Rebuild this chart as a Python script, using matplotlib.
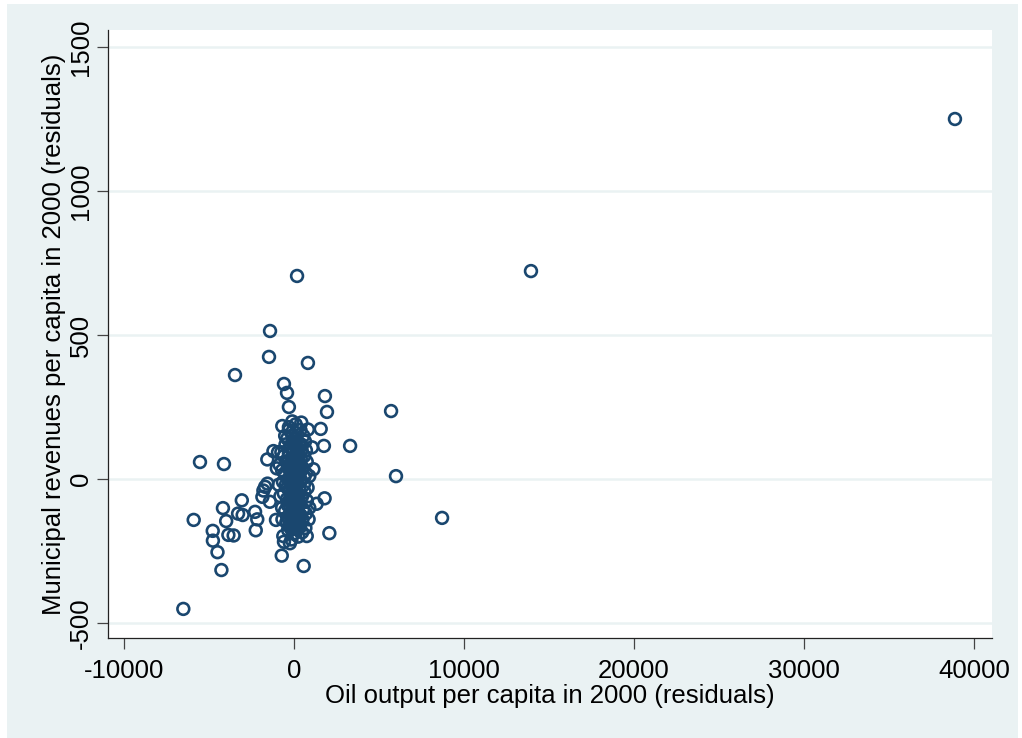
import numpy as np
import matplotlib
matplotlib.use("Agg")
import matplotlib.pyplot as plt
from matplotlib.patches import Rectangle

plt.rcParams['font.family'] = ['Liberation Sans', 'DejaVu Sans']
plt.rcParams['axes.unicode_minus'] = False

# outlying municipalities (oil output residual, revenue residual)
x_out = [38880, 13940, 180, -1410, -1470, 820, -3470, -590, -410, 1820, -300, 1940,
         5710, 3300, -5530, -4120, 6000, 8710, -5900, 2080, -6510, -4270, 570, -4500,
         -4770, -4780, -3990, -4180, -3860, -3550, -3070, -3290, -3020, -2290, -2160,
         -2250, -720, -1860, -1560, -1700, -1420, -1570, -1210, -940, -745, -690, 430,
         820, 1570, 1760, 1060, -290, 80, 1800, 1330, -1060, 860, 750, 670, -630, -590,
         -240, -350, 160, -1010, 1140, -1800]
y_out = [1250, 722, 705, 514, 424, 403, 361, 330, 299, 288, 250, 233,
         236, 115, 59, 52, 10, -135, -142, -188, -451, -316, -302, -254,
         -214, -180, -146, -101, -194, -196, -74, -120, -125, -114, -140,
         -178, -266, -62, -16, -27, -79, 68, 97, 93, 93, 184, 196,
         172, 174, 115, 110, 170, 160, -67, -86, -142, -140, -198, -170, -198, -218,
         -223, -177, -171, 37, 34, -40]

# dense cluster around the origin
x_core = [-500, -400, -250, -100, 0, 150, 300, 450, 550, 650,
          -600, -450, -300, -150, -50, 100, 250, 400, 600, 750,
          -700, -550, -350, -200, -80, 50, 200, 350, 500, 700, 900,
          -650, -480, -320, -180, -30, 120, 280, 420, 580, 800,
          -800, -600, -420, -260, -120, 20, 170, 320, 480, 620, 760,
          -700, -520, -380, -220, -60, 80, 240, 380, 540, 700,
          -450, -280, -130, 40, 200, 350, 480, -20, 250, -150,
          -350, -80, 60, -250, 150, 300, -400, -520, 380, 100, -100, 600, -900, -850,
          900, 0, -300, 200, 420, -60, -230, 700, -680, 300, -150, 100, 500, -350,
          -200, -100, 0, 100, 200, 300, -250, -150, -50, 50, 150, 250, 350,
          -300, -200, -100, 0, 100, 200, 300, -250, -150, -50, 50, 150, 250,
          -200, -100, 0, 100, 200, 300, -150, -50, 50, 150, 250, -100, 0, 100]
y_core = [120, 140, 110, 150, 130, 140, 120, 100, 150, 130,
          80, 60, 90, 70, 100, 85, 95, 70, 80, 60,
          30, 20, 40, 25, 45, 30, 50, 20, 40, 20, 10,
          -10, -20, 0, -15, 5, -10, 10, -5, -20, -30,
          -60, -50, -70, -40, -60, -45, -55, -35, -60, -45, -75,
          -100, -110, -90, -120, -100, -115, -95, -125, -105, -120,
          -150, -160, -140, -155, -145, -160, -185, -190, -200, -210,
          60, -20, 10, -90, -80, -80, -30, 150, 170, 190, 200, 5, -20, 50,
          -100, -80, 180, -20, 120, 60, -10, 100, -140, 60, 10, 50, -140, -130,
          110, 125, 95, 115, 105, 85, 40, 55, 65, 70, 35, 60, 45,
          -5, 15, -25, 20, -30, -15, 30, -70, -85, -55, -65, -95, -60,
          -130, -150, -125, -135, -110, -140, -175, -165, -170, -100, -120, -40, -45, -5]

x_ticks = [-10000, 0, 10000, 20000, 30000, 40000]
y_ticks = [-500, 0, 500, 1000, 1500]

bg = '#eaf2f3'
navy = '#1a476f'

fig = plt.figure(figsize=(10.22, 7.38), dpi=100, facecolor='white')
frame = Rectangle((7 / 1022, 0), 1011 / 1022, 734 / 738, transform=fig.transFigure,
                  facecolor=bg, edgecolor='none', zorder=-10)
fig.add_artist(frame)
ax = fig.add_axes([108 / 1022, 1 - 638 / 738, 884 / 1022, 608 / 738])
ax.set_zorder(1)
ax.set_facecolor('white')

ax.scatter(x_out + x_core, y_out + y_core, s=72, facecolors='none', edgecolors=navy,
           linewidths=1.9, zorder=3)

ax.set_xlim(-10941, 41059)
ax.set_ylim(-552, 1559)
ax.set_xticks(x_ticks)
ax.set_yticks(y_ticks)
ax.set_yticklabels([str(v) for v in y_ticks], rotation=90, va='center')
ax.yaxis.grid(True, color=bg, linewidth=1.8, zorder=0)
ax.set_axisbelow(True)

for s in ['top', 'right']:
    ax.spines[s].set_visible(False)
for s in ['left', 'bottom']:
    ax.spines[s].set_linewidth(0.9)
    ax.spines[s].set_color('#222222')

ax.tick_params(axis='both', direction='out', length=8, width=0.9, color='#444444',
               labelsize=18.5, labelcolor='black')
ax.tick_params(axis='x', pad=7)
ax.tick_params(axis='y', pad=3)

ax.set_xlabel('Oil output per capita in 2000 (residuals)', fontsize=18.5, labelpad=1)
ax.set_ylabel('Municipal revenues per capita in 2000 (residuals)', fontsize=18.5, va='center')
ax.yaxis.set_label_coords(-54 / 884, 0.5)

fig.savefig('out.png', dpi=100, facecolor='white')
